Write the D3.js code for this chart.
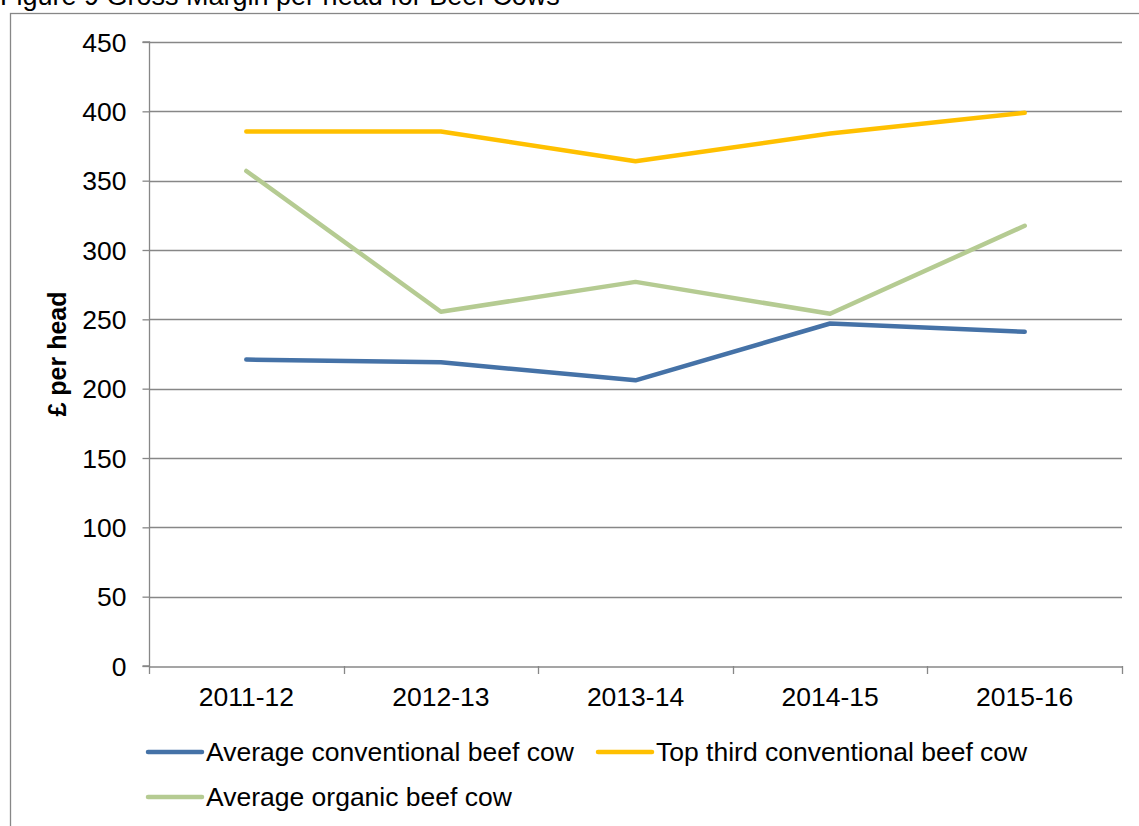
<!DOCTYPE html>
<html><head><meta charset="utf-8">
<script src="https://cdn.jsdelivr.net/npm/d3@7"></script>
<style>body{margin:0;background:#fff;}svg{display:block;font-family:"Liberation Sans",Arial,sans-serif;}</style>
</head><body>
<svg id="c" width="1139" height="826"></svg>
<script>
const categories = ["2011-12","2012-13","2013-14","2014-15","2015-16"];
const avgConventional = [221, 219, 206, 247, 241];
const topThird = [385.5, 385.5, 364, 384, 399];
const avgOrganic = [357, 255.5, 277, 254, 317.5];
const yTicks = [0,50,100,150,200,250,300,350,400,450];
const seriesNames = ["Average conventional beef cow","Top third conventional beef cow","Average organic beef cow"];
const seriesColors = ["#4572A7","#FFC000","#B5CB92"];

const svg = d3.select("#c");
const L=149, R=1122, T=42, B=666;
const FS=26.5;
const x = d3.scaleBand().domain(categories).range([L,R]);
const y = d3.scaleLinear().domain([0,450]).range([B,T]);
const grey="#878787";

// outer border
svg.append("rect").attr("x",10.5).attr("y",13.5).attr("width",1140).attr("height",900)
  .attr("fill","none").attr("stroke",grey).attr("stroke-width",1.3);

// title
svg.append("text").attr("x",0).attr("y",5).attr("font-size",27).attr("fill","#000")
  .text("Figure 9 Gross Margin per head for Beef Cows");

// grid
svg.append("g").selectAll("line").data(yTicks.filter(d=>d>0)).join("line")
  .attr("x1",L).attr("x2",R).attr("y1",d=>Math.round(y(d))+0.5).attr("y2",d=>Math.round(y(d))+0.5)
  .attr("stroke",grey).attr("stroke-width",1.3);

// y axis
const ya = svg.append("g").attr("transform",`translate(${L+0.5},0)`)
  .call(d3.axisLeft(y).tickValues(yTicks).tickSize(7).tickPadding(16).tickFormat(d3.format("d")));
ya.select(".domain").attr("stroke",grey).attr("stroke-width",1.3).attr("d",`M-7,${B}H0V${T}H-7`);
ya.selectAll(".tick line").attr("stroke",grey).attr("stroke-width",1.3);
ya.selectAll(".tick text").attr("font-size",FS).attr("fill","#000").attr("font-family","Liberation Sans, Arial, sans-serif").attr("dy","0.35em");

// x axis
const xa = svg.append("g").attr("transform",`translate(0,${B+0.5})`)
  .call(d3.axisBottom(x).tickSize(0).tickPadding(21));
xa.select(".domain").attr("stroke",grey).attr("stroke-width",1.3);
xa.selectAll(".tick text").attr("font-size",FS).attr("fill","#000").attr("font-family","Liberation Sans, Arial, sans-serif");
const bounds = categories.map(c=>x(c)).concat([x(categories[categories.length-1])+x.bandwidth()]);
svg.append("g").selectAll("line").data(bounds).join("line")
  .attr("x1",d=>Math.round(d)+0.5).attr("x2",d=>Math.round(d)+0.5).attr("y1",B).attr("y2",B+8)
  .attr("stroke",grey).attr("stroke-width",1.3);

// y title
svg.append("text").attr("transform",`translate(66,354) rotate(-90)`)
  .attr("text-anchor","middle").attr("font-size",25).attr("font-weight","bold").text("£ per head");

// lines
const series=[avgConventional, topThird, avgOrganic];
const line = d3.line().x((d,i)=>x(categories[i])+x.bandwidth()/2).y(d=>y(d));
[2,0,1].forEach(k=>{
  svg.append("path").datum(series[k]).attr("d",line).attr("fill","none")
    .attr("stroke",seriesColors[k]).attr("stroke-width",4.5).attr("stroke-linecap","round").attr("stroke-linejoin","round");
});

// legend
const leg=[{x:148,y:752,k:0},{x:598,y:752,k:1},{x:148,y:797,k:2}];
leg.forEach(o=>{
  svg.append("line").attr("x1",o.x).attr("x2",o.x+54).attr("y1",o.y).attr("y2",o.y)
    .attr("stroke",seriesColors[o.k]).attr("stroke-width",4.5).attr("stroke-linecap","round");
  svg.append("text").attr("x",o.x+58).attr("y",o.y+9).attr("font-size",FS).text(seriesNames[o.k]);
});
</script>
</body></html>
